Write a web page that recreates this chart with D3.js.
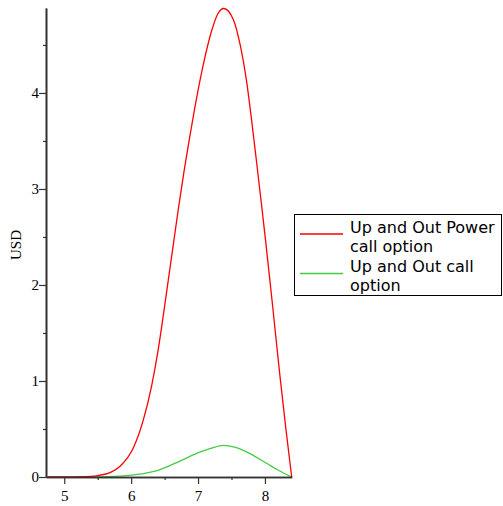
<!DOCTYPE html>
<html><head><meta charset="utf-8">
<script src="https://cdn.jsdelivr.net/npm/d3@7"></script>
<style>body{margin:0;background:#fff}svg{display:block}</style>
</head><body>
<script>
const xTicks = [5, 6, 7, 8];
const yTicks = [0, 1, 2, 3, 4];
const xRed = [4.75, 5.0, 5.25, 5.5, 5.7, 5.83, 6.03, 6.18, 6.306, 6.405, 6.48, 6.555, 6.63, 6.705, 6.79, 6.87, 6.95, 7.08, 7.20, 7.30, 7.385, 7.53, 7.63, 7.73, 7.80, 7.88, 7.95, 8.01, 8.10, 8.22, 8.31, 8.40];
const yRed = [0, 0.0005, 0.003, 0.015, 0.05, 0.11, 0.30, 0.59, 0.95, 1.33, 1.68, 2.05, 2.42, 2.79, 3.18, 3.52, 3.84, 4.30, 4.64, 4.83, 4.88, 4.76, 4.50, 4.10, 3.72, 3.25, 2.83, 2.46, 1.88, 1.08, 0.52, 0];
const xGreen = [4.75, 5.5, 5.83, 6.0, 6.2, 6.4, 6.68, 6.98, 7.2, 7.38, 7.55, 7.73, 8.03, 8.2, 8.40];
const yGreen = [0, 0.002, 0.01, 0.02, 0.038, 0.07, 0.15, 0.245, 0.30, 0.33, 0.31, 0.26, 0.14, 0.07, 0];
const seriesNames = ["Up and Out Power call option", "Up and Out call option"];
const legendLines = [["Up and Out Power", "call option"], ["Up and Out call", "option"]];
const colors = ["#ff0000", "#44cc44"];

const W = 503, H = 506;
const svg = d3.select("body").append("svg").attr("width", W).attr("height", H);
const x = d3.scaleLinear().domain([4.727, 8.4]).range([46, 291.7]);
const y = d3.scaleLinear().domain([0, 4.885]).range([477, 8]);

const line = d3.line().x(d => x(d[0])).y(d => y(d[1])).curve(d3.curveMonotoneX);
const redData = xRed.map((v, i) => [v, yRed[i]]);
const greenData = xGreen.map((v, i) => [v, yGreen[i]]);

svg.append("path").datum(greenData).attr("d", line).attr("fill", "none").attr("stroke", colors[1]).attr("stroke-width", 1.3);
svg.append("path").datum(redData).attr("d", line).attr("fill", "none").attr("stroke", colors[0]).attr("stroke-width", 1.3);

// axes
const axisColor = "#333";
const fontSerif = "'Liberation Serif', 'Times New Roman', serif";
const xAxis = svg.append("g").attr("transform", "translate(0,477)")
  .call(d3.axisBottom(x).tickValues(xTicks).tickFormat(d3.format("d")).tickSize(7).tickSizeOuter(0));
const xMinor = svg.append("g").attr("transform", "translate(0,477)")
  .call(d3.axisBottom(x).tickValues([5.5, 6.5, 7.5]).tickFormat("").tickSize(3).tickSizeOuter(0));
const yAxis = svg.append("g").attr("transform", "translate(46,0)")
  .call(d3.axisLeft(y).tickValues(yTicks).tickFormat(d3.format("d")).tickSize(7).tickSizeOuter(0));
const yMinor = svg.append("g").attr("transform", "translate(46,0)")
  .call(d3.axisLeft(y).tickValues([0.5, 1.5, 2.5, 3.5, 4.5]).tickFormat("").tickSize(3).tickSizeOuter(0));
[xAxis, xMinor, yAxis, yMinor].forEach(g => {
  g.selectAll("path.domain").attr("stroke", axisColor).attr("stroke-width", 1.6);
  g.selectAll(".tick line").attr("stroke", axisColor).attr("stroke-width", 1.2);
  g.selectAll("text").attr("fill", "#000").style("font-family", fontSerif).style("font-size", "15px");
});
xAxis.selectAll("text").attr("y", 13);
yAxis.selectAll("text").attr("x", -7);

svg.append("text").attr("transform", "translate(21,245) rotate(-90)")
  .attr("text-anchor", "middle").style("font-family", fontSerif).style("font-size", "15px").text("USD");

// legend
const lg = svg.append("g");
lg.append("rect").attr("x", 294.5).attr("y", 214.5).attr("width", 207).attr("height", 81)
  .attr("fill", "#fff").attr("stroke", "#000").attr("stroke-width", 1);
const lineYs = [234, 273.5];
seriesNames.forEach((name, i) => {
  lg.append("line").attr("x1", 300).attr("x2", 343).attr("y1", lineYs[i]).attr("y2", lineYs[i])
    .attr("stroke", colors[i]).attr("stroke-width", 1.3);
  legendLines[i].forEach((t, j) => {
    lg.append("text").attr("x", 350).attr("y", 233 + i * 38.8 + j * 19)
      .style("font-family", "'DejaVu Sans', sans-serif").style("font-size", "16px").attr("fill", "#000").text(t);
  });
});
</script>
</body></html>
